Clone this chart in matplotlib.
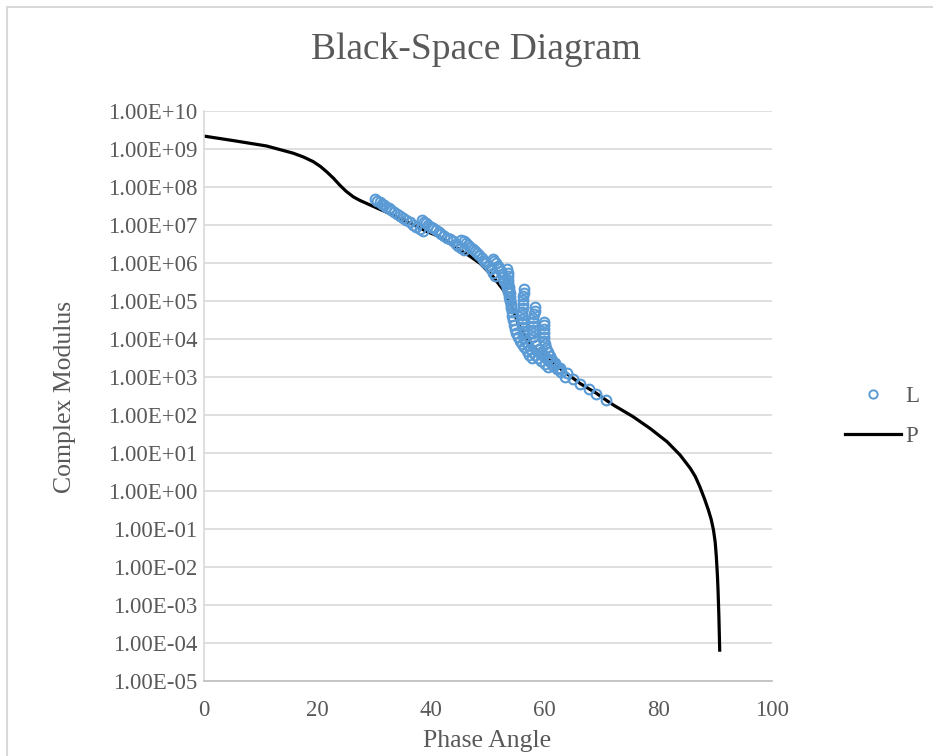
import numpy as np
import matplotlib
matplotlib.use("Agg")
import matplotlib.pyplot as plt
from matplotlib.ticker import FuncFormatter, FixedLocator, NullLocator
from matplotlib.lines import Line2D

plt.rcParams['font.family'] = ['Liberation Serif', 'DejaVu Serif']

# ---------------- data ----------------
# P series (black line): phase angle vs log10(complex modulus)
phase_P = [0, 5.2, 11.0, 15.7, 17.5, 19.2, 20.5, 21.6, 22.8, 23.9, 25.0, 26.3, 27.4, 28.6,
           29.8, 31.0, 32.7, 36.3, 39.2, 41.5, 43.3, 45.1, 46.8, 48.6, 50.9, 52.7, 54.2,
           55.3, 56.8, 59.2, 61.5, 63.8, 66.2, 69.1, 70.8, 72.1, 75.5, 78.5, 81.5, 83.8,
           85.6, 86.5, 87.3, 88.1, 88.8, 89.3, 89.7, 90.0, 90.2, 90.4, 90.5, 90.65, 90.8]
logmod_P = [9.34, 9.22, 9.08, 8.89, 8.79, 8.67, 8.54, 8.40, 8.23, 8.05, 7.89, 7.74, 7.65, 7.57,
            7.49, 7.41, 7.30, 7.05, 6.83, 6.69, 6.52, 6.34, 6.18, 5.99, 5.64, 5.29, 4.85,
            4.41, 3.97, 3.62, 3.36, 3.10, 2.83, 2.57, 2.39, 2.26, 1.96, 1.65, 1.30, 0.95,
            0.60, 0.38, 0.11, -0.20, -0.50, -0.75, -1.03, -1.35, -1.73, -2.25, -2.61, -3.30,
            -4.23]

# L series (hollow circles), read as isotherm branches
phase_L1 = [30.1, 30.5, 30.9, 31.3, 31.7, 32.1, 32.5, 33.0, 33.5, 34.0, 34.5, 35.0, 35.6,
            36.2, 36.8, 37.4, 38.0, 38.6]
logmod_L1 = [7.68, 7.64, 7.60, 7.56, 7.52, 7.48, 7.44, 7.39, 7.34, 7.29, 7.24, 7.19, 7.13,
             7.07, 7.01, 6.95, 6.89, 6.83]

phase_L2 = [38.3, 38.7, 39.1, 39.5, 39.9, 40.3, 40.8, 41.3, 41.8, 42.3, 42.8, 43.3, 43.8,
            44.3, 44.8, 45.3, 45.8]
logmod_L2 = [7.12, 7.08, 7.04, 7.00, 6.96, 6.92, 6.87, 6.82, 6.77, 6.72, 6.67, 6.62, 6.57,
             6.51, 6.45, 6.39, 6.33]

phase_L3 = [45.3, 45.7, 46.1, 46.5, 46.9, 47.3, 47.7, 48.1, 48.5, 48.9, 49.3, 49.7, 50.1,
            50.5, 50.9, 51.3]
logmod_L3 = [6.61, 6.57, 6.53, 6.48, 6.43, 6.38, 6.32, 6.26, 6.20, 6.13, 6.06, 5.99, 5.91,
             5.83, 5.75, 5.66]

phase_L4 = [50.8, 51.1, 51.4, 51.7, 52.0, 52.3, 52.5, 52.7, 52.9, 53.1, 53.3, 53.5, 53.7,
            53.9, 54.1]
logmod_L4 = [6.10, 6.05, 5.99, 5.93, 5.86, 5.78, 5.70, 5.62, 5.53, 5.44, 5.34, 5.23, 5.11,
             4.99, 4.87]

phase_L5 = [53.4, 53.5, 53.5, 53.6, 53.6, 53.7, 53.7, 53.8, 53.8, 53.9, 54.0, 54.1, 54.2,
            54.3, 54.4, 54.6, 54.8, 55.0, 55.3, 55.6, 56.0, 56.4, 56.9, 57.3, 57.7]
logmod_L5 = [5.83, 5.74, 5.65, 5.56, 5.47, 5.38, 5.29, 5.20, 5.11, 5.02, 4.92, 4.82, 4.71,
             4.60, 4.49, 4.38, 4.27, 4.16, 4.06, 3.96, 3.87, 3.78, 3.68, 3.58, 3.49]

phase_L6 = [56.3, 56.3, 56.2, 56.2, 56.1, 56.1, 56.0, 56.0, 56.0, 56.0, 56.0, 56.1, 56.2,
            56.4, 56.7, 57.0, 57.4, 57.8, 58.3, 58.8, 59.4, 60.0, 60.6]
logmod_L6 = [5.32, 5.22, 5.12, 5.02, 4.92, 4.82, 4.72, 4.62, 4.52, 4.42, 4.32, 4.22, 4.12,
             4.02, 3.92, 3.83, 3.74, 3.66, 3.58, 3.50, 3.42, 3.34, 3.26]

phase_L7 = [58.3, 58.2, 58.1, 58.0, 57.9, 57.9, 57.9, 57.9, 58.0, 58.2, 58.5, 58.9, 59.3,
            59.8, 60.3, 60.9, 61.5, 62.1, 62.8]
logmod_L7 = [4.85, 4.75, 4.65, 4.55, 4.45, 4.35, 4.25, 4.15, 4.05, 3.95, 3.85, 3.75, 3.66,
             3.57, 3.48, 3.39, 3.30, 3.21, 3.12]

phase_L8 = [59.9, 59.8, 59.8, 59.8, 59.8, 59.9, 60.0, 60.2, 60.5, 60.9, 61.3, 61.8, 62.3,
            62.9, 63.5]
logmod_L8 = [4.46, 4.36, 4.26, 4.16, 4.06, 3.96, 3.86, 3.76, 3.66, 3.56, 3.46, 3.36, 3.25,
             3.13, 3.01]

phase_L9 = [59.5, 60.5, 61.6, 62.7, 63.9, 65.0, 66.2, 67.7, 69.1, 70.8]
logmod_L9 = [3.58, 3.47, 3.35, 3.24, 3.10, 2.95, 2.82, 2.68, 2.55, 2.39]

x_ticks = [0, 20, 40, 60, 80, 100]
y_decades = list(range(-5, 11))

title_text = "Black-Space Diagram"
x_label = "Phase Angle"
y_label = "Complex Modulus"

# ---------------- plot ----------------
TXT = "#595959"
GRID = "#D9D9D9"
BLUE = "#5B9BD5"

fig = plt.figure(figsize=(9.33, 7.56), dpi=100)
W, H = 933, 756
ax = fig.add_axes([204 / W, 1 - 681 / H, (772 - 204) / W, (681 - 111) / H])

phase_L = phase_L1 + phase_L2 + phase_L3 + phase_L4 + phase_L5 + phase_L6 + phase_L7 + phase_L8 + phase_L9
logmod_L = logmod_L1 + logmod_L2 + logmod_L3 + logmod_L4 + logmod_L5 + logmod_L6 + logmod_L7 + logmod_L8 + logmod_L9
mod_L = 10.0 ** np.array(logmod_L)
mod_P = 10.0 ** np.array(logmod_P)

ax.plot(phase_P, mod_P, color="black", lw=2.3, zorder=2, solid_capstyle='butt',
        solid_joinstyle='round')
ax.plot(phase_L, mod_L, linestyle="none", marker="o", markersize=7,
        markerfacecolor="none", markeredgecolor=BLUE, markeredgewidth=1.5, zorder=3)

ax.set_yscale("log")
ax.set_xlim(0, 100)
ax.set_ylim(10.0 ** y_decades[0], 10.0 ** y_decades[-1])
ax.yaxis.set_major_locator(FixedLocator([10.0 ** d for d in y_decades]))
ax.yaxis.set_minor_locator(NullLocator())
ax.yaxis.set_major_formatter(FuncFormatter(lambda v, p: f"{v:.2E}"))
ax.set_xticks(x_ticks)

ax.grid(axis="y", which="major", color=GRID, lw=1.2, zorder=0)
ax.set_axisbelow(True)
for s in ["top", "right"]:
    ax.spines[s].set_visible(False)
ax.spines["left"].set_color(GRID)
ax.spines["left"].set_linewidth(1.2)
ax.spines["bottom"].set_color("#BFBFBF")
ax.spines["bottom"].set_linewidth(1.2)

ax.tick_params(axis="both", length=0, labelsize=16.5, colors=TXT)
ax.tick_params(axis="y", pad=5)
ax.tick_params(axis="x", pad=14)

fig.text(476 / W, 1 - 50 / H, title_text, ha="center", va="center", fontsize=27, color=TXT)
fig.text(487 / W, 1 - 741 / H, x_label, ha="center", va="center", fontsize=18.5, color=TXT)
fig.text(65 / W, 1 - 397 / H, y_label, ha="center", va="center", fontsize=18.5, color=TXT,
         rotation=90)

handles = [Line2D([], [], linestyle="none", marker="o", markersize=6, markerfacecolor="none",
                  markeredgecolor=BLUE, markeredgewidth=1.4),
           Line2D([], [], color="black", lw=2.3)]
leg = fig.legend(handles, ["L", "P"], loc="center left", bbox_to_anchor=(845 / W, 1 - 416.5 / H),
                 frameon=False, fontsize=16.5, handlelength=2.45, handletextpad=0.2,
                 labelspacing=0.85, borderpad=0, borderaxespad=0)
for t in leg.get_texts():
    t.set_color(TXT)

# chart border
fig.add_artist(plt.Rectangle((7.5 / W, -0.05), 1.2, 1 - 7.5 / H + 0.05, transform=fig.transFigure,
                             fill=False, edgecolor=GRID, lw=1.5))

fig.savefig("out.png", dpi=100)
